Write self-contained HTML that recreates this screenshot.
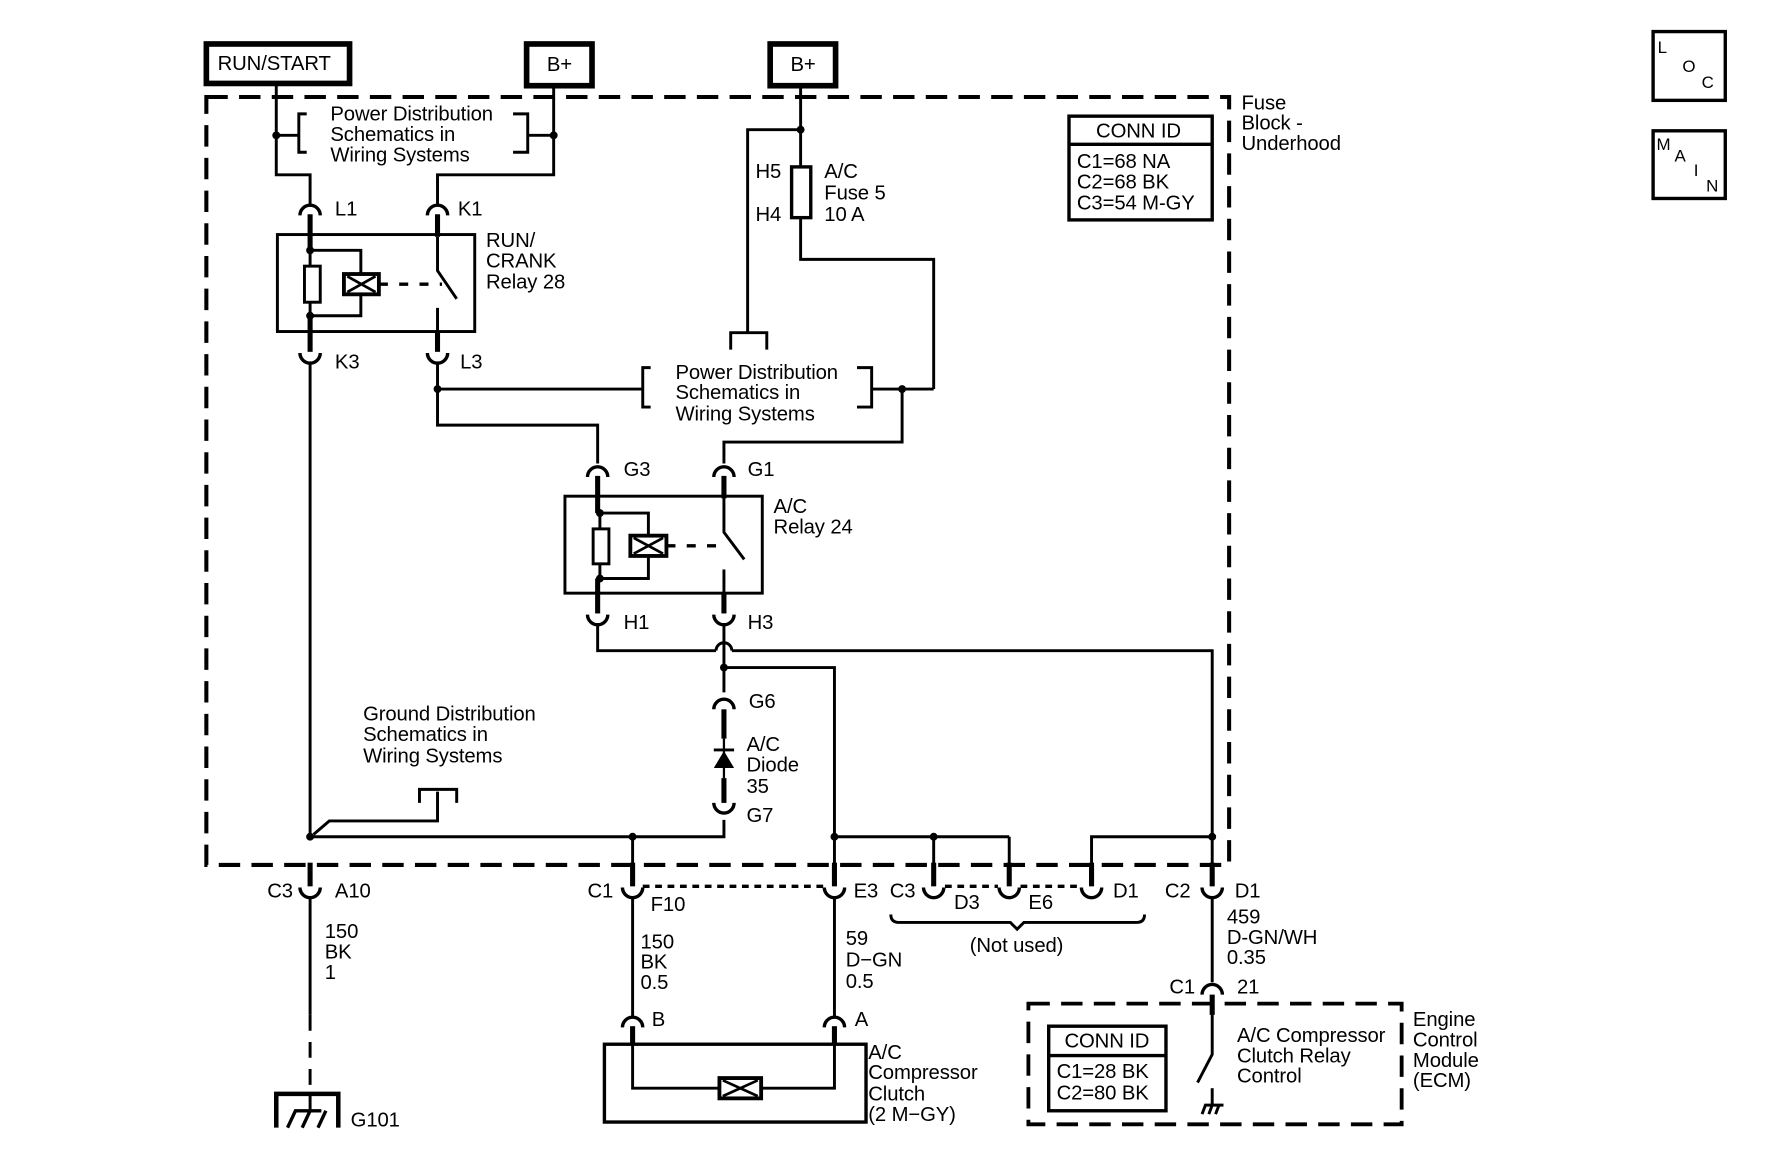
<!DOCTYPE html>
<html><head><meta charset="utf-8"><style>
html,body{margin:0;padding:0;background:#fff}
svg{display:block}
text{font-family:"Liberation Sans",sans-serif;font-size:18px;fill:#000;letter-spacing:-0.1px}
</style></head><body>
<svg width="1767" height="1157" viewBox="0 0 1567 1026" preserveAspectRatio="none" xmlns="http://www.w3.org/2000/svg">
<rect width="1567" height="1026" fill="#fff"/>
<g fill="none" stroke="#000" stroke-width="2.6" stroke-linejoin="miter">
<rect x="183" y="86" width="907" height="681" stroke-width="3.6" stroke-dasharray="19,10"/>
<rect x="183" y="39" width="127" height="35" stroke-width="5"/>
<rect x="467" y="39" width="58" height="37" stroke-width="5"/>
<rect x="683" y="39" width="58" height="37" stroke-width="5"/>
<rect x="1466" y="28" width="64" height="61" stroke-width="3"/>
<rect x="1466" y="116" width="64" height="60" stroke-width="3"/>
<rect x="948" y="103" width="127" height="92" stroke-width="3"/>
<line x1="948" y1="128" x2="1075" y2="128" stroke-width="3"/>
<rect x="930" y="910" width="104" height="75" stroke-width="3"/>
<line x1="930" y1="936" x2="1034" y2="936" stroke-width="3"/>
<rect x="912" y="890" width="331" height="107" stroke-width="3.4" stroke-dasharray="19,10"/>
<polyline points="245,74 245,155 275,155 275,181"/>
<polyline points="491,76 491,155 388,155 388,181"/>
<line x1="245" y1="120" x2="265" y2="120"/>
<polyline points="272,101 265,101 265,135 272,135"/>
<polyline points="455,101 468,101 468,135 455,135"/>
<line x1="468" y1="120" x2="491" y2="120"/>
<rect x="246" y="208" width="175" height="86"/>
<line x1="275" y1="190" x2="275" y2="222" stroke-width="4.5"/>
<line x1="388" y1="190" x2="388" y2="210" stroke-width="4.5"/>
<line x1="275" y1="222" x2="275" y2="280"/>
<rect x="270" y="236" width="14" height="32" fill="#fff"/>
<polyline points="275,222 320,222 320,243"/>
<polyline points="275,280 320,280 320,260"/>
<rect x="305" y="243" width="31" height="18" stroke-width="3.4"/>
<path d="M308,245 L333,259 M308,259 L333,245" stroke-width="2.4"/>
<line x1="336" y1="252" x2="392" y2="252" stroke-width="3" stroke-dasharray="8,10"/>
<polyline points="388,210 388,240 405,265"/>
<line x1="388" y1="273" x2="388" y2="294"/>
<line x1="275" y1="280" x2="275" y2="312" stroke-width="4.5"/>
<line x1="388" y1="294" x2="388" y2="312" stroke-width="4.5"/>
<line x1="275" y1="322" x2="275" y2="742"/>
<polyline points="388,322 388,377 530,377 530,411"/>
<line x1="388" y1="345" x2="570" y2="345"/>
<polyline points="577,326 570,326 570,361 577,361"/>
<polyline points="760,326 773,326 773,361 760,361"/>
<line x1="773" y1="345" x2="828" y2="345"/>
<polyline points="828,345 828,230 710,230 710,193"/>
<polyline points="800,345 800,392 642,392 642,411"/>
<line x1="710" y1="76" x2="710" y2="148"/>
<rect x="702" y="148" width="17" height="45" stroke-width="3"/>
<polyline points="710,115 663,115 663,295"/>
<polyline points="648,310 648,295 680,295 680,310"/>
<rect x="501" y="440" width="175" height="86"/>
<line x1="530" y1="422" x2="530" y2="455" stroke-width="4.5"/>
<line x1="642" y1="422" x2="642" y2="442" stroke-width="4.5"/>
<line x1="532" y1="455" x2="532" y2="513"/>
<rect x="526" y="469" width="14" height="31" fill="#fff"/>
<polyline points="532,455 575,455 575,475"/>
<polyline points="532,513 575,513 575,493"/>
<rect x="559" y="475" width="32" height="18" stroke-width="3.4"/>
<path d="M562,477 L588,491 M562,491 L588,477" stroke-width="2.4"/>
<line x1="591" y1="484" x2="645" y2="484" stroke-width="3" stroke-dasharray="8,10"/>
<polyline points="642,442 642,472 660,496"/>
<line x1="642" y1="505" x2="642" y2="526"/>
<line x1="530" y1="513" x2="530" y2="544" stroke-width="4.5"/>
<line x1="642" y1="526" x2="642" y2="544" stroke-width="4.5"/>
<polyline points="530,553 530,577 635,577"/>
<path d="M635,577 A7,7 0 0 1 649,577"/>
<polyline points="649,577 1075,577 1075,785"/>
<line x1="642" y1="553" x2="642" y2="614"/>
<polyline points="642,592 740,592 740,785"/>
<line x1="642" y1="629" x2="642" y2="655" stroke-width="4.5"/>
<line x1="642" y1="690" x2="642" y2="712" stroke-width="4.5"/>
<line x1="642" y1="655" x2="642" y2="690" stroke-width="2"/>
<line x1="633" y1="665" x2="651" y2="665" stroke-width="2.6"/>
<polyline points="642,727 642,742 275,742"/>
<line x1="561" y1="742" x2="561" y2="785"/>
<polyline points="278,740 292,728 388,728 388,702"/>
<polyline points="372,712 372,700 405,700 405,712"/>
<line x1="740" y1="742" x2="895" y2="742"/>
<line x1="828" y1="742" x2="828" y2="785"/>
<line x1="895" y1="742" x2="895" y2="785"/>
<polyline points="968,785 968,742 1075,742"/>
<g stroke-width="4.5">
<line x1="275" y1="765" x2="275" y2="786"/>
<line x1="561" y1="765" x2="561" y2="786"/>
<line x1="740" y1="765" x2="740" y2="786"/>
<line x1="828" y1="765" x2="828" y2="786"/>
<line x1="895" y1="765" x2="895" y2="786"/>
<line x1="968" y1="765" x2="968" y2="786"/>
<line x1="1075" y1="765" x2="1075" y2="786"/>
</g>
<line x1="570" y1="786" x2="731" y2="786" stroke-width="3" stroke-dasharray="6,5"/>
<line x1="838" y1="786" x2="885" y2="786" stroke-width="3" stroke-dasharray="6,5"/>
<line x1="905" y1="786" x2="958" y2="786" stroke-width="3" stroke-dasharray="6,5"/>
<path d="M790,811 Q790,818 797,818 L896,818 L902,824 L908,818 L1008,818 Q1015,818 1015,811"/>
<line x1="275" y1="796" x2="275" y2="900"/>
<line x1="275" y1="900" x2="275" y2="970" stroke-dasharray="14,10"/>
<line x1="561" y1="796" x2="561" y2="901"/>
<line x1="740" y1="796" x2="740" y2="901"/>
<line x1="1075" y1="796" x2="1075" y2="871"/>
<polyline points="245,1000 245,970 300,970 300,1000" stroke-width="4"/>
<path d="M255,1000 L262,985 L285,985 M268,1000 L275,985 M282,1000 L289,985" stroke-width="3"/>
<line x1="275" y1="970" x2="275" y2="985"/>
<rect x="536" y="926" width="232" height="69" stroke-width="3"/>
<line x1="561" y1="910" x2="561" y2="926" stroke-width="4.5"/>
<line x1="740" y1="910" x2="740" y2="926" stroke-width="4.5"/>
<polyline points="561,926 561,965 740,965 740,926"/>
<rect x="638" y="956" width="37" height="18" stroke-width="3.4" fill="#fff"/>
<path d="M641,958 L672,972 M641,972 L672,958" stroke-width="2.4"/>
<line x1="1075" y1="882" x2="1075" y2="900" stroke-width="4.5"/>
<polyline points="1075,900 1075,935 1062,960"/>
<line x1="1075" y1="965" x2="1075" y2="980"/>
<path d="M1066,988 L1069,980 L1085,980 M1072,988 L1075,980 M1078,988 L1081,980" stroke-width="2.6"/>
<g stroke-width="3">
<path d="M266,191 A9,9 0 0 1 284,191"/>
<path d="M379,191 A9,9 0 0 1 397,191"/>
<path d="M521,423 A9,9 0 0 1 539,423"/>
<path d="M633,423 A9,9 0 0 1 651,423"/>
<path d="M633,629 A9,9 0 0 1 651,629"/>
<path d="M552,911 A9,9 0 0 1 570,911"/>
<path d="M731,911 A9,9 0 0 1 749,911"/>
<path d="M1066,882 A9,9 0 0 1 1084,882"/>
<path d="M266,313 A9,9 0 0 0 284,313"/>
<path d="M379,313 A9,9 0 0 0 397,313"/>
<path d="M521,545 A9,9 0 0 0 539,545"/>
<path d="M633,545 A9,9 0 0 0 651,545"/>
<path d="M633,712 A9,9 0 0 0 651,712"/>
<path d="M266,787 A9,9 0 0 0 284,787"/>
<path d="M552,787 A9,9 0 0 0 570,787"/>
<path d="M731,787 A9,9 0 0 0 749,787"/>
<path d="M819,787 A9,9 0 0 0 837,787"/>
<path d="M886,787 A9,9 0 0 0 904,787"/>
<path d="M959,787 A9,9 0 0 0 977,787"/>
<path d="M1066,787 A9,9 0 0 0 1084,787"/>
</g>
</g>
<polygon points="642,666 633,681 651,681" fill="#000"/>
<g fill="#000">
<circle cx="245" cy="120" r="3.5"/><circle cx="491" cy="120" r="3.5"/>
<circle cx="710" cy="115" r="3.5"/><circle cx="388" cy="345" r="3.5"/>
<circle cx="800" cy="345" r="3.5"/><circle cx="275" cy="222" r="3.5"/>
<circle cx="275" cy="280" r="3.5"/><circle cx="532" cy="455" r="3.5"/>
<circle cx="532" cy="513" r="3.5"/><circle cx="642" cy="592" r="3.5"/>
<circle cx="275" cy="742" r="3.5"/><circle cx="561" cy="742" r="3.5"/>
<circle cx="740" cy="742" r="3.5"/><circle cx="828" cy="742" r="3.5"/>
<circle cx="1075" cy="742" r="3.5"/>
</g>
<text x="193" y="62">RUN/START</text>
<text x="485" y="63">B+</text>
<text x="701" y="63">B+</text>
<text x="293" y="107">Power Distribution</text>
<text x="293" y="125">Schematics in</text>
<text x="293" y="143">Wiring Systems</text>
<text x="1101" y="97">Fuse</text>
<text x="1101" y="115">Block -</text>
<text x="1101" y="133">Underhood</text>
<text x="972" y="122">CONN ID</text>
<text x="955" y="149">C1=68 NA</text>
<text x="955" y="167">C2=68 BK</text>
<text x="955" y="186">C3=54 M-GY</text>
<text x="1470" y="47" style="font-size:15px">L</text>
<text x="1492" y="64" style="font-size:15px">O</text>
<text x="1509" y="78" style="font-size:15px">C</text>
<text x="1469" y="133" style="font-size:15px">M</text>
<text x="1485" y="143" style="font-size:15px">A</text>
<text x="1502" y="156" style="font-size:15px">I</text>
<text x="1513" y="170" style="font-size:15px">N</text>
<text x="297" y="191">L1</text>
<text x="406" y="191">K1</text>
<text x="297" y="327">K3</text>
<text x="408" y="327">L3</text>
<text x="431" y="219">RUN/</text>
<text x="431" y="237">CRANK</text>
<text x="431" y="256">Relay 28</text>
<text x="670" y="158">H5</text>
<text x="670" y="196">H4</text>
<text x="731" y="158">A/C</text>
<text x="731" y="177">Fuse 5</text>
<text x="731" y="196">10 A</text>
<text x="599" y="336">Power Distribution</text>
<text x="599" y="354">Schematics in</text>
<text x="599" y="373">Wiring Systems</text>
<text x="553" y="422">G3</text>
<text x="663" y="422">G1</text>
<text x="686" y="455">A/C</text>
<text x="686" y="473">Relay 24</text>
<text x="553" y="558">H1</text>
<text x="663" y="558">H3</text>
<text x="664" y="628">G6</text>
<text x="662" y="666">A/C</text>
<text x="662" y="684">Diode</text>
<text x="662" y="703">35</text>
<text x="662" y="729">G7</text>
<text x="322" y="639">Ground Distribution</text>
<text x="322" y="657">Schematics in</text>
<text x="322" y="676">Wiring Systems</text>
<text x="237" y="796">C3</text>
<text x="297" y="796">A10</text>
<text x="521" y="796">C1</text>
<text x="577" y="808">F10</text>
<text x="757" y="796">E3</text>
<text x="789" y="796">C3</text>
<text x="846" y="806">D3</text>
<text x="912" y="806">E6</text>
<text x="987" y="796">D1</text>
<text x="1033" y="796">C2</text>
<text x="1095" y="796">D1</text>
<text x="860" y="844">(Not used)</text>
<text x="288" y="832">150</text>
<text x="288" y="850">BK</text>
<text x="288" y="868">1</text>
<text x="568" y="841">150</text>
<text x="568" y="859">BK</text>
<text x="568" y="877">0.5</text>
<text x="750" y="838">59</text>
<text x="750" y="857">D−GN</text>
<text x="750" y="876">0.5</text>
<text x="1088" y="819">459</text>
<text x="1088" y="837">D-GN/WH</text>
<text x="1088" y="855">0.35</text>
<text x="1037" y="881">C1</text>
<text x="1097" y="881">21</text>
<text x="578" y="910">B</text>
<text x="758" y="910">A</text>
<text x="311" y="999">G101</text>
<text x="770" y="939">A/C</text>
<text x="770" y="957">Compressor</text>
<text x="770" y="976">Clutch</text>
<text x="770" y="994">(2 M−GY)</text>
<text x="944" y="929">CONN ID</text>
<text x="937" y="956">C1=28 BK</text>
<text x="937" y="975">C2=80 BK</text>
<text x="1097" y="924">A/C Compressor</text>
<text x="1097" y="942">Clutch Relay</text>
<text x="1097" y="960">Control</text>
<text x="1253" y="910">Engine</text>
<text x="1253" y="928">Control</text>
<text x="1253" y="946">Module</text>
<text x="1253" y="964">(ECM)</text>
</svg>
</body></html>
